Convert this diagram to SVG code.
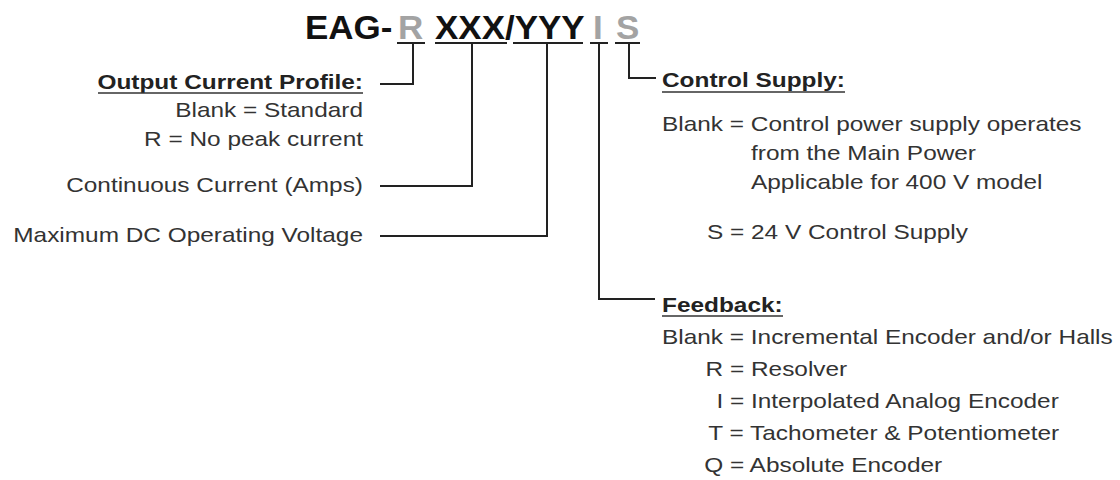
<svg xmlns="http://www.w3.org/2000/svg" width="1120" height="480" viewBox="0 0 1120 480">
<style>
.t{font-family:"Liberation Sans",Arial,sans-serif;font-size:20px;fill:#333}
.h{font-weight:bold;fill:#222}
.e{text-anchor:end}
.ti{font-family:"Liberation Sans",Arial,sans-serif;font-size:33px;font-weight:bold;fill:#111}
.g{fill:#a3a3a3}
.ln{stroke:#222;stroke-width:2;fill:none}
.ul{stroke:#333;stroke-width:1.6}
</style>
<rect width="1120" height="480" fill="#fff"/>
<g id="code">
<text class="ti" transform="translate(305,39) scale(1.06,1)">EAG-</text>
<text class="ti g" transform="translate(398,39) scale(1.06,1)">R</text>
<text class="ti" transform="translate(435,39) scale(1.06,1)">XXX/YYY</text>
<text class="ti g" transform="translate(593,39) scale(1.06,1)">I</text>
<text class="ti g" transform="translate(616,39) scale(1.06,1)">S</text>
</g>
<g id="profile">
<text class="t h e" transform="translate(363,89) scale(1.22,1)">Output Current Profile:</text>
<line class="ul" x1="98" y1="93" x2="363" y2="93"/>
<text class="t e" transform="translate(363,117) scale(1.22,1)">Blank = Standard</text>
<text class="t e" transform="translate(363,146) scale(1.22,1)">R = No peak current</text>
</g>
<g id="continuous">
<text class="t e" transform="translate(363,192) scale(1.22,1)">Continuous Current (Amps)</text>
</g>
<g id="voltage">
<text class="t e" transform="translate(363,242) scale(1.22,1)">Maximum DC Operating Voltage</text>
</g>
<g id="control">
<text class="t h" transform="translate(662,87) scale(1.22,1)">Control Supply:</text>
<line class="ul" x1="662" y1="92" x2="845" y2="92"/>
<text class="t" transform="translate(662,131) scale(1.22,1)">Blank = Control power supply operates</text>
<text class="t" transform="translate(751,160) scale(1.22,1)">from the Main Power</text>
<text class="t" transform="translate(751,189) scale(1.22,1)">Applicable for 400 V model</text>
<text class="t" transform="translate(707,239) scale(1.22,1)">S = 24 V Control Supply</text>
</g>
<g id="feedback">
<text class="t h" transform="translate(662,312) scale(1.22,1)">Feedback:</text>
<line class="ul" x1="662" y1="316" x2="783" y2="316"/>
<text class="t" transform="translate(662,343.5) scale(1.22,1)">Blank = Incremental Encoder and/or Halls</text>
<text class="t" transform="translate(705.6,375.5) scale(1.22,1)">R = Resolver</text>
<text class="t" transform="translate(716.4,407.5) scale(1.22,1)">I = Interpolated Analog Encoder</text>
<text class="t" transform="translate(708.3,440) scale(1.22,1)">T = Tachometer &amp; Potentiometer</text>
<text class="t" transform="translate(704.2,472) scale(1.22,1)">Q = Absolute Encoder</text>
</g>
<g id="connectors">
<line class="ln" x1="397" y1="43" x2="425" y2="43"/>
<line class="ln" x1="435" y1="43" x2="507" y2="43"/>
<line class="ln" x1="513" y1="43" x2="583" y2="43"/>
<line class="ln" x1="590" y1="43" x2="608" y2="43"/>
<line class="ln" x1="615" y1="43" x2="640" y2="43"/>
<path class="ln" d="M413,43 V84 H380"/>
<path class="ln" d="M472,43 V186 H380"/>
<path class="ln" d="M547,43 V236 H380"/>
<path class="ln" d="M599,43 V299 H655"/>
<path class="ln" d="M629,43 V78 H656"/>
</g>
</svg>
